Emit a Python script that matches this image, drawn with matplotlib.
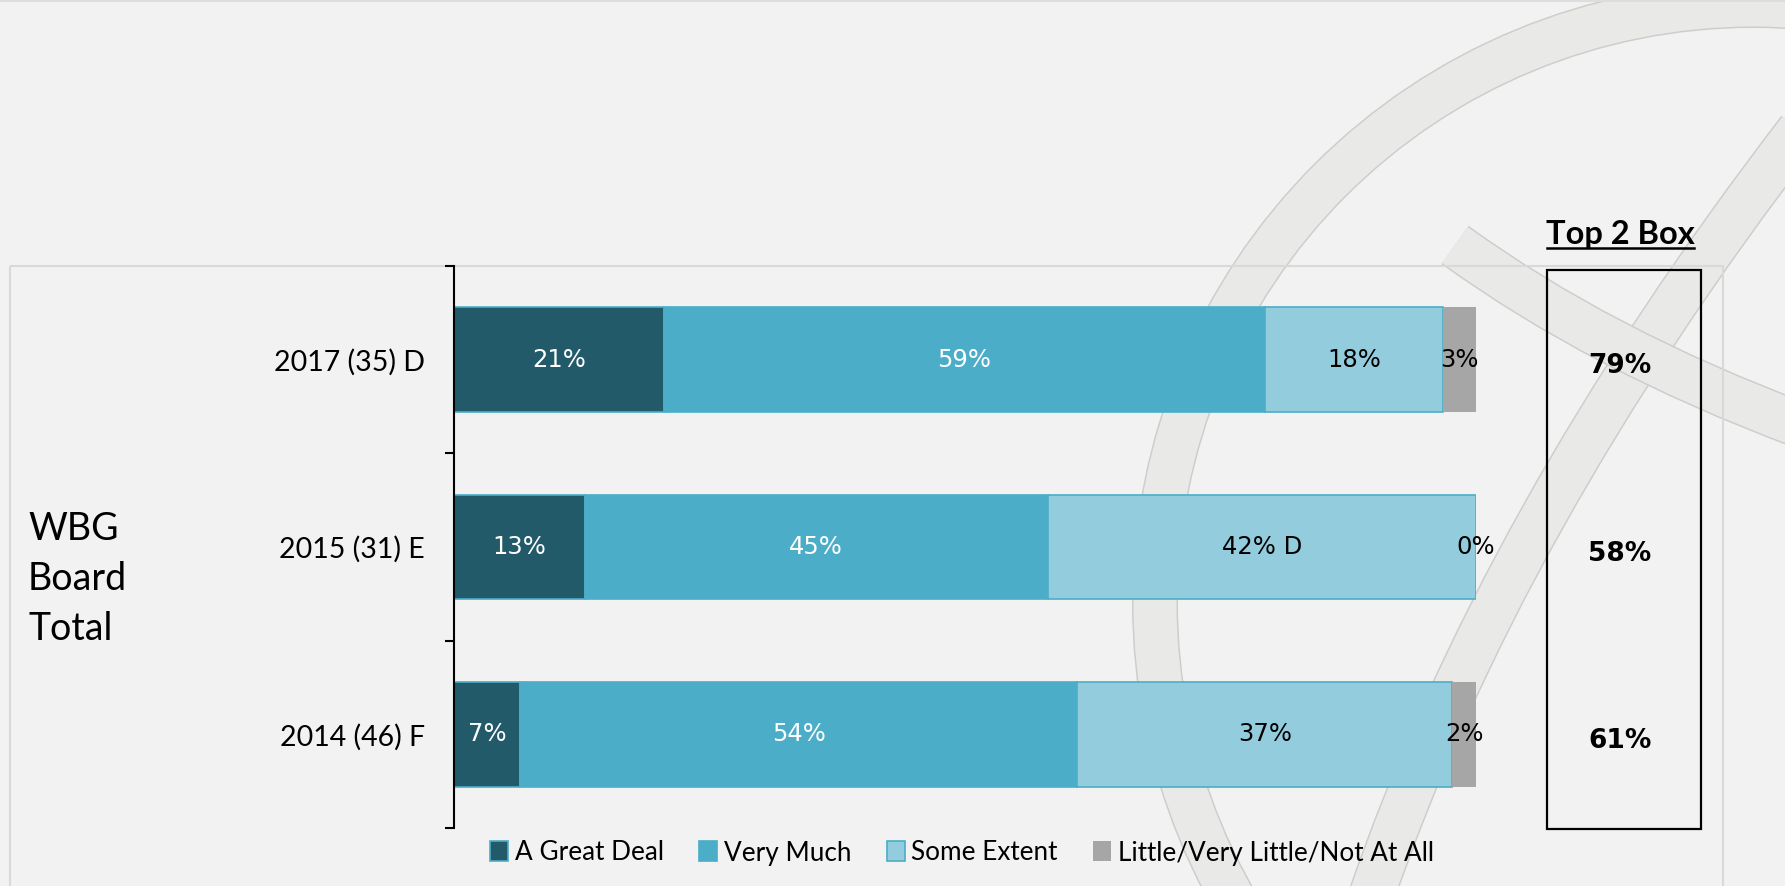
import matplotlib.pyplot as plt
from matplotlib.patches import Rectangle, Circle, PathPatch
from matplotlib.path import Path
from matplotlib.transforms import blended_transform_factory

plt.rcParams["font.family"] = ["Lato", "DejaVu Sans"]

# Data
years = ["2017 (35) D", "2015 (31) E", "2014 (46) F"]
series = ["A Great Deal", "Very Much", "Some Extent", "Little/Very Little/Not At All"]
great_deal = [20.5, 12.8, 6.5]
very_much = [58.9, 45.3, 54.5]
some_extent = [17.4, 41.9, 36.7]
little = [3.2, 0.0, 2.3]
great_deal_lbl = ["21%", "13%", "7%"]
very_much_lbl = ["59%", "45%", "54%"]
some_extent_lbl = ["18%", "42% D", "37%"]
little_lbl = ["3%", "0%", "2%"]
top2_box = ["79%", "58%", "61%"]
group_label = ["WBG", "Board", "Total"]

colors = ["#225A69", "#4BADC7", "#93CDDD", "#A6A6A6"]
edges = ["#4BADC7", "#4BADC7", "#4BADC7", "none"]
text_colors = ["white", "white", "black", "black"]

W, H = 1785, 886
fig = plt.figure(figsize=(W / 100, H / 100), dpi=100, facecolor="#F2F2F2")

# background layer in pixel coordinates: watermark, frame, top-2 box
bg = fig.add_axes([0, 0, 1, 1], zorder=0)
bg.set_xlim(0, W)
bg.set_ylim(H, 0)
bg.axis("off")
bg.patch.set_alpha(0)


def band(patch_maker, width_px):
    # light band with a thin darker outline
    outer = patch_maker()
    outer.set(fill=False, lw=(width_px + 3) * 0.72, edgecolor="#CDCDCB", capstyle="butt")
    inner = patch_maker()
    inner.set(fill=False, lw=width_px * 0.72, edgecolor="#E9E9E7", capstyle="butt")
    bg.add_patch(outer)
    bg.add_patch(inner)


band(lambda: Circle((1753, 603), 598), 43)
band(lambda: PathPatch(Path([(1370, 900), (1500, 520), (1800, 130)],
                            [Path.MOVETO, Path.CURVE3, Path.CURVE3])), 44)
band(lambda: PathPatch(Path([(1455, 245), (1600, 350), (1800, 425)],
                            [Path.MOVETO, Path.CURVE3, Path.CURVE3])), 44)

bg.add_patch(Rectangle((10, 266), 1713, 700, fill=False, edgecolor="#D9D9D9", lw=1.5, zorder=5))
bg.plot([0, W], [1, 1], color="#DDDDDD", lw=1.5, zorder=5)
bg.add_patch(Rectangle((1547, 270), 154, 559, fill=False, edgecolor="black", lw=1.6, zorder=6))
bg.plot([1547, 1694], [248, 248], color="black", lw=1.8, zorder=6)
fig.text(1620 / W, 1 - 234 / H, "Top 2 Box", ha="center", va="center",
         fontsize=23.5, fontweight="bold")

for k, word in enumerate(group_label):
    fig.text(28 / W, 1 - (529 + 50 * k) / H, word, ha="left", va="center", fontsize=27)

# main chart
ax = fig.add_axes([454 / W, 1 - 828 / H, 1022 / W, 562 / H], zorder=2)
ax.set_facecolor("none")
ypos = list(range(len(years)))
left = [0.0] * len(years)
handles = []
for i, (vals, lbls) in enumerate(zip([great_deal, very_much, some_extent, little],
                                     [great_deal_lbl, very_much_lbl, some_extent_lbl, little_lbl])):
    bars = ax.barh(ypos, vals, left=left, height=0.56, color=colors[i],
                   edgecolor=edges[i], linewidth=1.2, label=series[i])
    handles.append(bars)
    for y, v, l, lb in zip(ypos, vals, left, lbls):
        ax.text(l + v / 2, y, lb, ha="center", va="center", fontsize=17.5,
                color=text_colors[i], family="DejaVu Sans", zorder=4)
    left = [a + b for a, b in zip(left, vals)]

ax.set_xlim(0, 100)
ax.set_ylim(2.5, -0.5)
for s in ["top", "right", "bottom"]:
    ax.spines[s].set_visible(False)
ax.spines["left"].set_linewidth(1.5)
ax.set_xticks([])
ax.set_yticks([-0.5, 0.5, 1.5, 2.5])
ax.set_yticklabels([])
ax.tick_params(axis="y", which="major", length=6.5, width=1.5, direction="out")
ax.set_yticks(ypos, minor=True)
ax.set_yticklabels(years, minor=True, fontsize=20.5)
ax.tick_params(axis="y", which="minor", length=0, pad=21)

tr = blended_transform_factory(fig.transFigure, ax.transData)
for y, val in zip(ypos, top2_box):
    ax.text(1620 / W, y + 0.035, val, transform=tr, ha="center", va="center",
            fontsize=19, fontweight="bold", family="DejaVu Sans", clip_on=False)

fig.legend(handles, series, loc="center", bbox_to_anchor=(962 / W, 1 - 853 / H),
           ncol=4, frameon=False, fontsize=18.8, handlelength=0.7, handleheight=0.8,
           handletextpad=0.25, columnspacing=1.35)

fig.savefig("out.png", dpi=100, facecolor=fig.get_facecolor())
